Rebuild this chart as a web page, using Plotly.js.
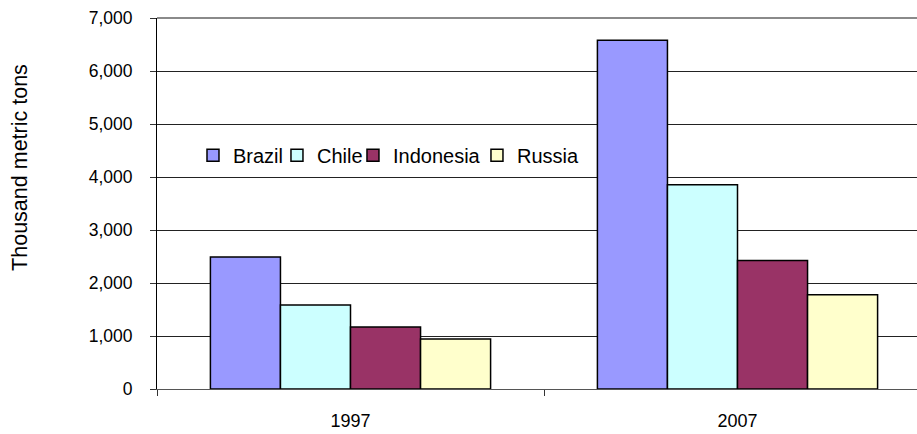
<!DOCTYPE html>
<html>
<head>
<meta charset="utf-8">
<script src="https://cdn.plot.ly/plotly-3.0.1.min.js"></script>
<style>
html,body{margin:0;padding:0;overflow:hidden;background:#fff;}
#chart{width:931px;height:434px;}
</style>
</head>
<body>
<div id="chart"></div>
<script>
const years = ['1997', '2007'];
const countries = ['Brazil', 'Chile', 'Indonesia', 'Russia'];
const brazil = [2490, 6580];
const chile = [1585, 3855];
const indonesia = [1170, 2425];
const russia = [945, 1780];
const colors = ['#9999FF', '#CCFFFF', '#993366', '#FFFFCC'];
const series = [brazil, chile, indonesia, russia];
const yTitle = 'Thousand metric tons';

const font = 'Liberation Sans, Arial, sans-serif';
const legendIds = ['legend', 'legend2', 'legend3', 'legend4'];
const legendX = [0.0465, 0.155, 0.2532, 0.4134];

const traces = countries.map((c, i) => ({
  type: 'bar',
  name: c,
  x: years,
  y: series[i],
  legend: legendIds[i],
  marker: {color: colors[i], line: {color: '#000', width: 1.5}},
  hoverinfo: 'x+y+name'
}));

const layout = {
  width: 931,
  height: 434,
  margin: {l: 157, r: 0, t: 18, b: 45},
  paper_bgcolor: '#fff',
  plot_bgcolor: '#fff',
  font: {family: font, size: 18, color: '#000'},
  barmode: 'group',
  bargap: 0.276,
  bargroupgap: 0,
  showlegend: true,
  xaxis: {
    type: 'category',
    range: [-0.5, 1.5],
    showgrid: false,
    showline: true,
    linecolor: '#555',
    linewidth: 1,
    ticks: 'outside',
    tickson: 'boundaries',
    ticklen: 6,
    tickcolor: '#333',
    ticklabelstandoff: 15,
    tickfont: {family: font, size: 18, color: '#000'},
    fixedrange: true
  },
  yaxis: {
    range: [0, 7000],
    dtick: 1000,
    tick0: 0,
    tickformat: ',d',
    showgrid: true,
    gridcolor: '#222',
    gridwidth: 1,
    zeroline: false,
    showline: true,
    linecolor: '#000',
    linewidth: 1,
    ticks: 'outside',
    ticklen: 6,
    tickcolor: '#333',
    ticklabelstandoff: 14,
    tickfont: {family: font, size: 17.5, color: '#000'},
    automargin: false,
    fixedrange: true
  },
  annotations: [{
    text: yTitle,
    xref: 'paper', yref: 'paper',
    x: 0, y: 0.596,
    xshift: -137,
    xanchor: 'center', yanchor: 'middle',
    textangle: -90,
    showarrow: false,
    font: {family: font, size: 21.5, color: '#000'}
  }],
  shapes: [{
    type: 'line', xref: 'paper', yref: 'paper', x0: 0, x1: 1, y0: 1, y1: 1,
    line: {color: '#8a8a8a', width: 2}
  }]
};

legendIds.forEach((id, i) => {
  layout[id] = {
    orientation: 'h',
    x: legendX[i], xanchor: 'left',
    y: 0.63, yanchor: 'middle',
    bgcolor: 'rgba(0,0,0,0)',
    font: {family: font, size: 20, color: '#000'},
    itemwidth: 30
  };
});

Plotly.newPlot('chart', traces, layout, {displayModeBar: false, staticPlot: true});
</script>
</body>
</html>
